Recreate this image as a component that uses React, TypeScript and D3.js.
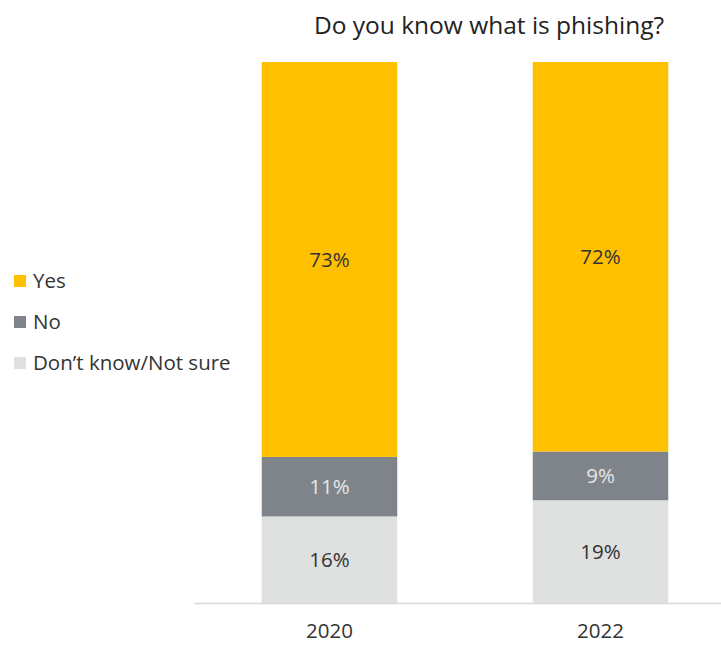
import React from "react";
import * as d3 from "d3";

const years = ["2020", "2022"];
const seriesNames = ["Don’t know/Not sure", "No", "Yes"];
const dontKnow = [16, 19];
const no = [11, 9];
const yes = [73, 72];
const colors = ["#DFE0E0", "#7F848B", "#FFC000"];
const labelColors = ["#333333", "#E6E6E6", "#333333"];
const legendOrder = ["Yes", "No", "Don’t know/Not sure"];
const title = "Do you know what is phishing?";

const W = 721;
const H = 645;
const FONT = "'Open Sans', 'Noto Sans', sans-serif";

export default function App() {
  const rows = years.map((y, i) => ({ year: y, dk: dontKnow[i], no: no[i], yes: yes[i] }));
  const keys = ["dk", "no", "yes"];
  const stack = d3.stack<any>().keys(keys)(rows);
  const x = d3.scaleBand().domain(years).range([194, 736]).paddingInner(0.5).paddingOuter(0.25);
  const y = d3.scaleLinear().domain([0, 100]).range([603, 62]);
  const colorOf = (name: string) => colors[seriesNames.indexOf(name)];
  const fs = 20.5;

  return (
    <svg width={W} height={H} style={{ position: "absolute", left: 0, top: 0, background: "#fff" }} fontFamily={FONT}>
      <text x={489} y={34} textAnchor="middle" fontSize={24.5} fill="#222">{title}</text>
      {stack.map((layer, si) =>
        layer.map((d, i) => {
          const x0 = x(years[i])!;
          const bw = x.bandwidth();
          const yTop = y(d[1]);
          const yBot = y(d[0]);
          const v = d[1] - d[0];
          return (
            <g key={`${si}-${i}`}>
              <rect x={x0} y={yTop} width={bw} height={yBot - yTop} fill={colors[si]} />
              <text x={x0 + bw / 2} y={(yTop + yBot) / 2} dy="0.35em" textAnchor="middle" fontSize={fs} fill={labelColors[si]}>
                {`${v}%`}
              </text>
            </g>
          );
        })
      )}
      <line x1={194} x2={721} y1={y(0) + 0.5} y2={y(0) + 0.5} stroke="#D9D9D9" strokeWidth={1.5} />
      {years.map((yr) => (
        <text key={yr} x={x(yr)! + x.bandwidth() / 2} y={638} textAnchor="middle" fontSize={fs} fill="#333">{yr}</text>
      ))}
      {legendOrder.map((name, i) => (
        <g key={name} transform={`translate(14, ${281 + i * 41})`}>
          <rect x={0} y={-6} width={12} height={12} fill={colorOf(name)} />
          <text x={19} y={0} dy="0.35em" fontSize={fs} fill="#333">{name}</text>
        </g>
      ))}
    </svg>
  );
}
